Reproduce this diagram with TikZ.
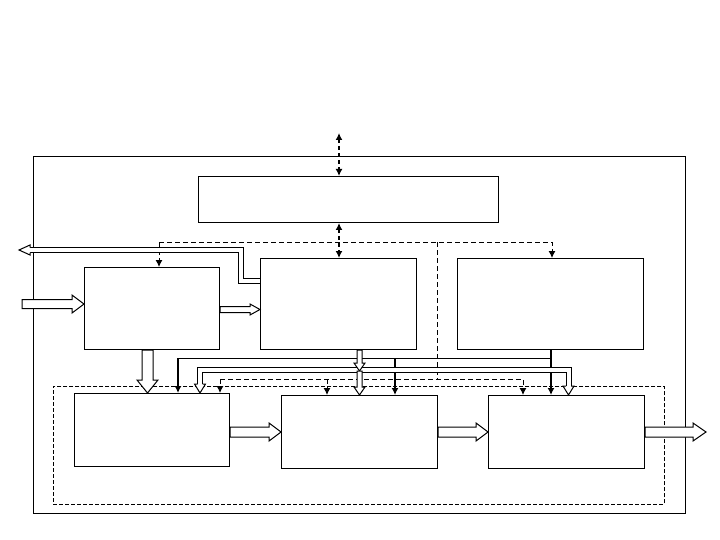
\documentclass[tikz,border=0pt]{standalone}
\usetikzlibrary{arrows.meta,calc}

% hollow block arrow: tail, tip, shaft half width, head half width, head length
\newcommand{\hollowarrow}[5]{%
	\path ($(#2)!#5!(#1)$) coordinate (hb);
	\filldraw[hollow] ($(#1)!#3!90:(#2)$) -- ($(hb)!#3!-90:(#1)$) -- ($(hb)!#4!-90:(#1)$)
	-- (#2) -- ($(hb)!#4!90:(#1)$) -- ($(hb)!#3!90:(#1)$) -- ($(#1)!#3!-90:(#2)$) -- cycle;
}
% open head at the end of a double line: base, tip, shaft half width, head half width
\newcommand{\hollowtip}[4]{%
	\filldraw[hollow] ($(#1)!#3!90:(#2)$) -- ($(#1)!#4!90:(#2)$) -- (#2)
	-- ($(#1)!#4!-90:(#2)$) -- ($(#1)!#3!-90:(#2)$);
}

\begin{document}
\begin{tikzpicture}[x={(1pt,0pt)}, y={(0pt,-1pt)},
	%Option for arrows
	>={Latex[length=7pt,width=7pt]},
	blk/.style={draw, line width=1pt, inner sep=0pt, anchor=north west},
	frame/.style={draw, dashed, line width=0.8pt, dash pattern=on 4pt off 2pt, inner sep=0pt, anchor=north west},
	ctl/.style={line width=1pt, dash pattern=on 5pt off 3pt},
	ctlthick/.style={line width=1.8pt, dash pattern=on 4pt off 3pt},
	data/.style={line width=1pt},
	datathick/.style={line width=1.8pt},
	hollow/.style={fill=white, draw=black, line width=1pt, line join=miter},
	bus/.style={draw=black, line width=1pt, double=white, double distance=4pt, line join=miter},
	]
	\useasboundingbox (0,0) rectangle (720,540);
	
	% Frames
	\node[blk, minimum width=652pt, minimum height=357pt] (outer) at (33,156) {};
	\node[frame, minimum width=611pt, minimum height=118pt] (inner) at (53,386) {};
	
	% Blocks
	\node[blk, minimum width=300pt, minimum height=46pt] (ctrl) at (198,176) {};
	\node[blk, minimum width=135pt, minimum height=82pt] (boxA) at (84,267) {};
	\node[blk, minimum width=156pt, minimum height=91pt] (boxB) at (260,258) {};
	\node[blk, minimum width=186pt, minimum height=91pt] (boxC) at (457,258) {};
	\node[blk, minimum width=155pt, minimum height=73pt] (boxD) at (74,393) {};
	\node[blk, minimum width=156pt, minimum height=73pt] (boxE) at (281,395) {};
	\node[blk, minimum width=156pt, minimum height=73pt] (boxF) at (488,395) {};
	
	% Control links to the top block
	\coordinate (ext) at (339,133);
	\draw[ctlthick,<->] (ext) -- (ext |- ctrl.north);
	\draw[ctlthick,<->] (ctrl.south -| ext) -- (ext |- boxB.north);
	
	% Dashed control lines
	\coordinate (fl) at (159,242);
	\coordinate (fm) at (437,242);
	\coordinate (fr) at (552,242);
	\coordinate (gl) at (220,379);
	\coordinate (gm) at (327,379);
	\coordinate (gr) at (523,379);
	\draw[ctl,->] (fl) -- (fl |- boxA.north);
	\draw[ctl,->] (fl) -- (fr) -- (fr |- boxC.north);
	\draw[ctl] (fm) -- (fm |- gl);
	\draw[ctl,->] (gl) -- (gl |- boxD.north);
	\draw[ctl,->] (gl) -- (gr) -- (gr |- boxF.north);
	\draw[ctl,->] (gm) -- (gm |- boxE.north);
	
	% Lines from the right block
	\coordinate (cl) at (178,358);
	\coordinate (cm) at (395,358);
	\coordinate (cr) at (551,358);
	\draw[data] (cr) -- (cl);
	\draw[datathick,->] (boxC.south -| cr) -- (cr |- boxF.north);
	\draw[datathick,->] (cl) -- (cl |- boxD.north);
	\draw[datathick,->] (cm) -- (cm |- boxE.north);
	
	% Bus from the middle block
	\coordinate (bl) at (200,370);
	\coordinate (bm) at (359.5,370);
	\coordinate (br) at (568.5,370);
	\draw[bus] ($(bl |- boxD.north)+(0,-9)$) -- (bl) -- (br) -- ($(br |- boxF.north)+(0,-9)$);
	\hollowtip{$(bl |- boxD.north)+(0,-9)$}{bl |- boxD.north}{2.5pt}{5.5pt}
	\hollowtip{$(br |- boxF.north)+(0,-9)$}{br |- boxF.north}{2.5pt}{5.5pt}
	\coordinate (bmt) at (359.5,371);
	\hollowarrow{boxB.south -| bm}{bmt}{2.5pt}{5.5pt}{8pt}
	\hollowarrow{bmt}{bm |- boxE.north}{2.5pt}{5.5pt}{8pt}
	
	% Output of the middle block to the left
	\coordinate (ob) at (241,280.5);
	\coordinate (ot) at (241,250);
	\coordinate (oe) at (30,250);
	\coordinate (otip) at (19,250);
	\draw[bus] (ob -| boxB.west) -- (ob) -- (ot) -- (oe);
	\hollowtip{oe}{otip}{2.5pt}{5pt}
	
	% Main data path
	\coordinate (in) at (22,304);
	\hollowarrow{in}{in -| boxA.west}{4.5pt}{9pt}{12pt}
	\coordinate (ab) at (219,309.5);
	\hollowarrow{ab -| boxA.east}{ab -| boxB.west}{3pt}{5.5pt}{10pt}
	\coordinate (ad) at (147.5,349);
	\hollowarrow{ad |- boxA.south}{ad |- boxD.north}{5.5pt}{10.5pt}{13pt}
	\coordinate (row) at (0,432);
	\hollowarrow{row -| boxD.east}{row -| boxE.west}{5pt}{9pt}{12pt}
	\hollowarrow{row -| boxE.east}{row -| boxF.west}{5pt}{9pt}{12pt}
	\coordinate (out) at (706,432);
	\hollowarrow{row -| boxF.east}{out}{5pt}{9pt}{13pt}
\end{tikzpicture}
\end{document}
